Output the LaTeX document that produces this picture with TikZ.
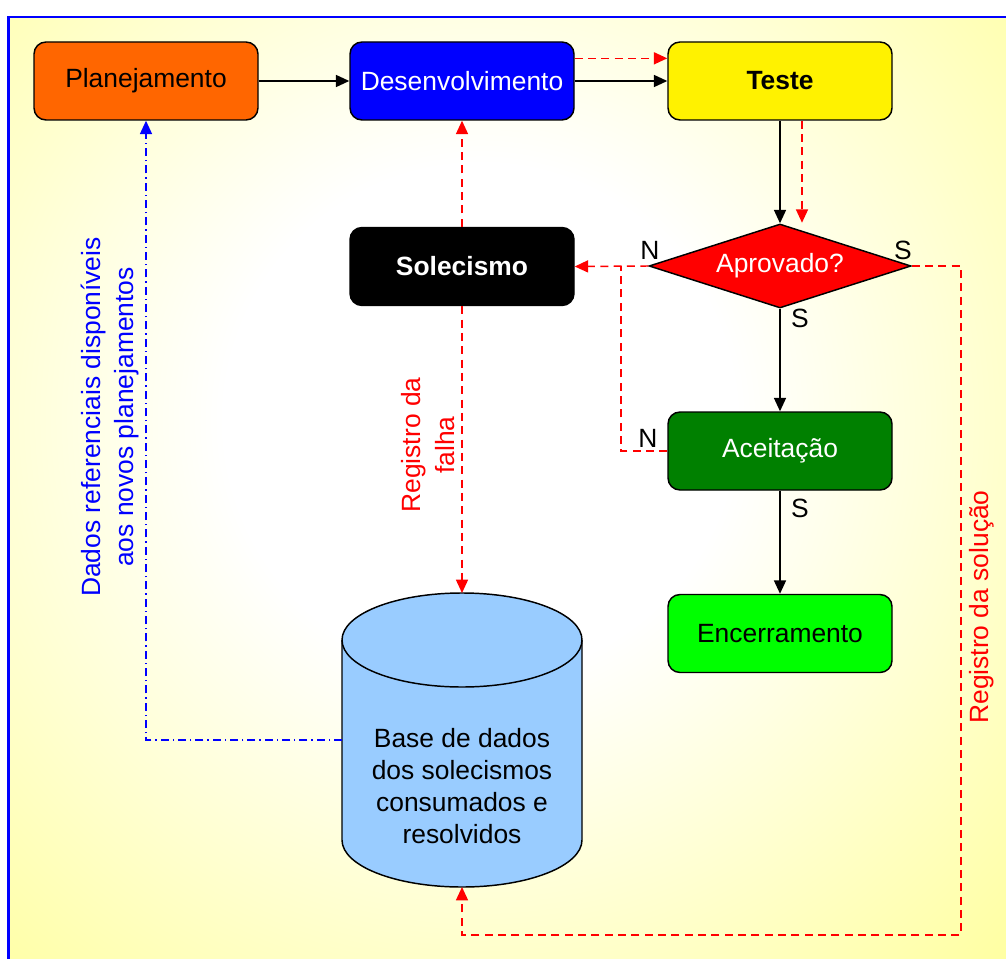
\documentclass[tikz,border=0pt]{standalone}
\usepackage{fontspec}
\setmainfont{Liberation Sans}
\usetikzlibrary{shapes.geometric,arrows.meta}

\definecolor{fundo}{RGB}{255,255,153}
\definecolor{laranja}{RGB}{255,102,0}
\definecolor{verdeesc}{RGB}{0,128,0}
\definecolor{verdeclaro}{RGB}{0,255,0}
\definecolor{azulbd}{RGB}{153,204,255}
\pgfdeclareradialshading{brilho}{\pgfpoint{0bp}{0bp}}{color(0bp)=(white); color(8bp)=(white); color(25bp)=(fundo); color(50bp)=(fundo)}

\begin{document}
\begin{tikzpicture}[x=0.75pt, y=-0.75pt, font=\fontsize{19.8}{24}\selectfont,
    etapa/.style={draw, line width=1.1pt, rounded corners=9pt, minimum width=168pt, minimum height=58.5pt, inner sep=2pt},
    seta/.style={-{Triangle[length=10pt,width=9pt]}},
    fluxo/.style={line width=1.1pt, seta},
    falha/.style={red, line width=1.1pt, dash pattern=on 6pt off 4pt},
    dados/.style={blue, line width=1.1pt, dash pattern=on 6pt off 3pt on 1pt off 3pt, seta}]

        \useasboundingbox (0,0) rectangle (1006,959);
        \fill[fundo] (8.5,17) rectangle (1006,959);
        \begin{scope}
            \clip (8.5,17) rectangle (1006,959);
            \shade[shading=brilho] (480,420) circle (600pt);
        \end{scope}
        \draw[blue, line width=1.6pt] (8.5,959) -- (8.5,17) -- (1006,17);

        \node[etapa, fill=laranja] (planej) at (146,81) {Planejamento};
        \node[etapa, fill=blue, text=white] (desenv) at (462,81) {Desenvolvimento};
        \node[etapa, fill=yellow, font=\fontsize{19.8}{24}\selectfont\bfseries] (teste) at (780,81) {Teste};
        \node[etapa, fill=black, text=white, font=\fontsize{19.8}{24}\selectfont\bfseries] (soleci) at (462,266.5) {Solecismo};
        \node[diamond, draw, line width=1.1pt, fill=red, text=white, aspect=3.1, minimum width=196.5pt, minimum height=63pt, inner sep=0pt] (aprov) at (780,266) {Aprovado?};
        \node[etapa, fill=verdeesc, text=white] (aceit) at (780,451) {Aceitação};
        \node[etapa, fill=verdeclaro] (encerr) at (780,633.5) {Encerramento};

        % base de dados (cilindro)
        \node[minimum width=180pt, minimum height=220.5pt, inner sep=0pt, outer sep=0pt] (db) at (462,740) {};
        \draw[line width=1.1pt, fill=azulbd] ([yshift=-35.25pt]db.north west) -- ([yshift=35.25pt]db.south west)
            arc (180:360:90pt and 35.25pt) -- ([yshift=-35.25pt]db.north east) arc (0:180:90pt and 35.25pt) -- cycle;
        \draw[line width=1.1pt] ([yshift=-35.25pt]db.north west) arc (180:360:90pt and 35.25pt);
        \node[align=center] (dbtexto) at (462,786) {Base de dados\\dos solecismos\\consumados e\\resolvidos};

        \draw[fluxo] (planej) -- (desenv);
        \draw[fluxo] (desenv) -- (teste);
        \draw[fluxo] (teste) -- (aprov);
        \draw[fluxo] (aprov) -- (aceit);
        \draw[fluxo] (aceit) -- (encerr);

        \coordinate (juncao) at (621,266);
        \draw[falha, seta] ([yshift=17pt]desenv.east) -- ([yshift=17pt]teste.west);
        \draw[falha, seta] ([xshift=16.5pt]teste.south) -- ++(0,102);
        \draw[falha, seta] (aprov.west) -- (soleci.east);
        \draw[falha] (aceit.west) -| (juncao);
        \draw[falha, seta] (soleci.north) -- (desenv.south);
        \draw[falha, seta] (soleci.south) -- (db.north);
        \draw[falha, seta] (aprov.east) -| (961,935) -| (db.south);
        \draw[dados] (db.west) -| (planej.south);

        \node (n1) at (650,250) {N};
        \node (s1) at (903,250) {S};
        \node (s2) at (800,318) {S};
        \node (n2) at (648,438) {N};
        \node (s3) at (800,508) {S};

        \node[red, rotate=90, align=center, font=\fontsize{19.8}{25}\selectfont] (regfalha) at (428,445) {Registro da\\falha};
        \node[red, rotate=90] (regsol) at (982,607) {Registro da solução};
        \node[blue, rotate=90, align=center, font=\fontsize{19.8}{25}\selectfont] (dadosref) at (110,417) {Dados referenciais disponíveis\\aos novos planejamentos};
    \end{tikzpicture}
\end{document}
